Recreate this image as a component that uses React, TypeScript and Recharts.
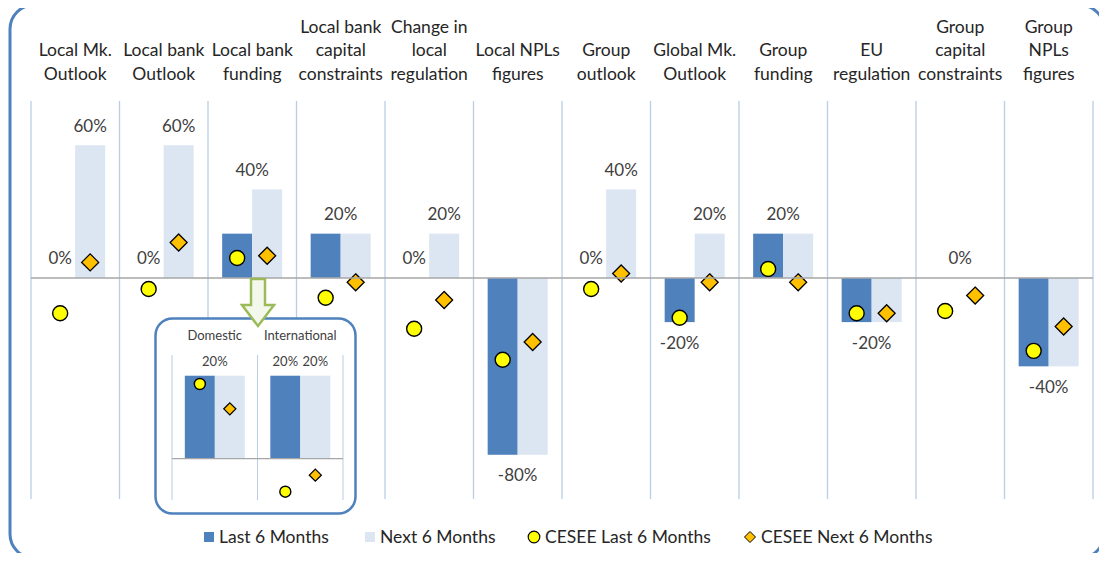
import React from 'react'
import { Bar, CartesianGrid, ComposedChart, ReferenceLine, XAxis, YAxis } from 'recharts'

// main chart
const categories = [
  'Local Mk.\nOutlook',
  'Local bank\nOutlook',
  'Local bank\nfunding',
  'Local bank\ncapital\nconstraints',
  'Change in\nlocal\nregulation',
  'Local NPLs\nfigures',
  'Group\noutlook',
  'Global Mk.\nOutlook',
  'Group\nfunding',
  'EU\nregulation',
  'Group\ncapital\nconstraints',
  'Group\nNPLs\nfigures',
]
const last6 = [0, 0, 20, 20, 0, -80, 0, -20, 20, -20, 0, -40]
const next6 = [60, 60, 40, 20, 20, -80, 40, 20, 20, -20, 0, -40]
const ceseeLast = [-16, -5, 9, -9, -23, -37, -5, -18, 4, -16, -15, -33]
const ceseeNext = [7, 16, 10, -2, -10, -29, 2, -2, -2, -16, -8, -22]
// 'group' = one label centred on the pair, 'split' = one label per bar
const labelModes = ['split', 'split', 'group', 'group', 'split', 'group', 'split', 'split', 'group', 'group', 'group', 'group']

// inset (local bank funding breakdown)
const insetCats = ['Domestic', 'International']
const insetLast = [20, 20]
const insetNext = [20, 20]
const insetCLast = [18, -8]
const insetCNext = [12, -4]
const insetModes = ['group', 'split']

const DARK = '#4f81bd'
const LIGHT = '#dce6f2'
const GRID = '#b9cde5'
const TXT = '#404040'
const FONT = 'Lato, "Noto Sans", sans-serif'

const mainData = categories.map((name, i) => ({
  name,
  last: last6[i],
  next: next6[i],
  cLast: ceseeLast[i],
  cNext: ceseeNext[i],
  mode: labelModes[i],
}))
const insetData = insetCats.map((name, i) => ({
  name,
  last: insetLast[i],
  next: insetNext[i],
  cLast: insetCLast[i],
  cNext: insetCNext[i],
  mode: insetModes[i],
}))

// value end of a bar, whichever way it points
const valueEnd = (y: number, h: number, v: number) => (v >= 0 ? Math.min(y, y + h) : Math.max(y, y + h))

const circleShape = (r: number) => (p: any) => (
  <circle
    cx={p.x + p.width / 2}
    cy={valueEnd(p.y, p.height, p.payload.cLast)}
    r={r}
    fill="#ffff00"
    stroke="#000"
    strokeWidth={1.4}
  />
)

const diamondShape = (s: number) => (p: any) => {
  const cx = p.x + p.width / 2
  const cy = valueEnd(p.y, p.height, p.payload.cNext)
  return (
    <path d={`M${cx},${cy - s}L${cx + s},${cy}L${cx},${cy + s}L${cx - s},${cy}Z`} fill="#ffc000" stroke="#000" strokeWidth={1.3} />
  )
}

// bar rectangle plus its data label
const barShape = (series: 'last' | 'next', fontSize: number, gap: number) => (p: any) => {
  const { x, y, width: w, height: h, payload, fill } = p
  const value = payload[series]
  const other = payload[series === 'last' ? 'next' : 'last']
  const top = Math.min(y, y + h)
  const bottom = Math.max(y, y + h)
  let cx = x + w / 2
  let show = true
  if (payload.mode === 'group') {
    const mine = Math.abs(value)
    const theirs = Math.abs(other)
    show = series === 'last' ? mine >= theirs : mine > theirs
    cx = series === 'last' ? x + w : x
  }
  const cy = value >= 0 ? top - gap : bottom + gap
  return (
    <g>
      {value !== 0 && <rect x={x} y={top} width={w} height={bottom - top} fill={fill} />}
      {show && (
        <text x={cx} y={cy} textAnchor="middle" dominantBaseline="central" fontSize={fontSize} fill={TXT} fontFamily={FONT}>
          {value}%
        </text>
      )}
    </g>
  )
}

const CategoryTick = (props: any) => {
  const { x, y, payload } = props
  const lines = String(payload.value).split('\n')
  return (
    <g>
      {lines.map((l, i) => (
        <text
          key={i}
          x={x}
          y={y - 26 - (lines.length - 1 - i) * 23.5}
          textAnchor="middle"
          dominantBaseline="central"
          fontSize={17.5}
          fill="#262626"
          fontFamily={FONT}
        >
          {l}
        </text>
      ))}
    </g>
  )
}

const InsetTick = (props: any) => {
  const { x, y, payload } = props
  return (
    <text x={x} y={y - 18} textAnchor="middle" dominantBaseline="central" fontSize={13} fill={TXT} fontFamily={FONT}>
      {payload.value}
    </text>
  )
}

const boundaries = (n: number) => (p: any) =>
  Array.from({ length: n + 1 }, (_, i) => p.offset.left + (i * p.offset.width) / n)

function Inset() {
  return (
    <div style={{ position: 'absolute', left: 154, top: 317 }}>
      <svg width={204} height={199} style={{ position: 'absolute', left: 0, top: 0 }}>
        <rect x={1.5} y={1.5} width={200} height={195} rx={17} fill="#fff" stroke={DARK} strokeWidth={2.5} />
      </svg>
      <ComposedChart
        width={204}
        height={199}
        data={insetData}
        margin={{ top: 4, right: 15, bottom: 16, left: 18 }}
        barCategoryGap="15%"
        barGap={0}
        style={{ position: 'absolute', left: 0, top: 0 }}
      >
        <CartesianGrid horizontal={false} stroke={GRID} verticalCoordinatesGenerator={boundaries(insetCats.length)} />
        <XAxis dataKey="name" orientation="top" height={34} axisLine={false} tickLine={false} tickSize={0} tick={<InsetTick />} interval={0} />
        <XAxis dataKey="name" xAxisId="m" hide />
        <YAxis hide domain={[-10, 25]} />
        <ReferenceLine y={0} stroke="#a6a6a6" strokeWidth={1.3} />
        <Bar dataKey="last" fill={DARK} minPointSize={0.01} shape={barShape('last', 13, 15)} isAnimationActive={false} />
        <Bar dataKey="next" fill={LIGHT} minPointSize={0.01} shape={barShape('next', 13, 15)} isAnimationActive={false} />
        <Bar xAxisId="m" dataKey="cLast" fill="none" shape={circleShape(5.5)} isAnimationActive={false} />
        <Bar xAxisId="m" dataKey="cNext" fill="none" shape={diamondShape(6)} isAnimationActive={false} />
      </ComposedChart>
    </div>
  )
}

const legendItems = [
  { label: 'Last 6 Months', left: 203, kind: 'dark' },
  { label: 'Next 6 Months', left: 364, kind: 'light' },
  { label: 'CESEE Last 6 Months', left: 527, kind: 'circle' },
  { label: 'CESEE Next 6 Months', left: 743, kind: 'diamond' },
]

const LegendIcon = ({ kind }: { kind: string }) => {
  if (kind === 'dark' || kind === 'light')
    return (
      <svg width={12} height={12}>
        <rect x={1} y={1} width={10} height={10} fill={kind === 'dark' ? DARK : LIGHT} />
      </svg>
    )
  if (kind === 'circle')
    return (
      <svg width={14} height={14}>
        <circle cx={7} cy={7} r={5.8} fill="#ffff00" stroke="#000" strokeWidth={1.2} />
      </svg>
    )
  return (
    <svg width={14} height={14}>
      <path d="M7,1.5L12.5,7L7,12.5L1.5,7Z" fill="#ffc000" stroke="#000" strokeWidth={1} />
    </svg>
  )
}

export default function App() {
  return (
    <div
      style={{
        position: 'relative',
        width: 1107,
        height: 561,
        margin: -8,
        background: '#fff',
        overflow: 'hidden',
        fontFamily: FONT,
      }}
    >
      <svg width={1107} height={561} style={{ position: 'absolute', left: 0, top: 0 }}>
        <rect x={10} y={5} width={1094} height={553} rx={24} fill="#fff" stroke={DARK} strokeWidth={3} />
      </svg>
      <ComposedChart
        width={1107}
        height={561}
        data={mainData}
        margin={{ top: 10, right: 14, bottom: 62, left: 31 }}
        barCategoryGap="16%"
        barGap={0}
        style={{ position: 'absolute', left: 0, top: 0 }}
      >
        <CartesianGrid horizontal={false} stroke={GRID} strokeWidth={1.3} verticalCoordinatesGenerator={boundaries(categories.length)} />
        <XAxis dataKey="name" orientation="top" height={91} axisLine={false} tickLine={false} tickSize={0} tick={<CategoryTick />} interval={0} />
        <XAxis dataKey="name" xAxisId="m" hide />
        <YAxis hide domain={[-100, 80]} />
        <ReferenceLine y={0} stroke="#a6a6a6" strokeWidth={1.5} />
        <Bar dataKey="last" name="Last 6 Months" fill={DARK} minPointSize={0.01} shape={barShape('last', 17, 20)} isAnimationActive={false} />
        <Bar dataKey="next" name="Next 6 Months" fill={LIGHT} minPointSize={0.01} shape={barShape('next', 17, 20)} isAnimationActive={false} />
        <Bar xAxisId="m" dataKey="cLast" name="CESEE Last 6 Months" fill="none" shape={circleShape(7.5)} isAnimationActive={false} />
        <Bar xAxisId="m" dataKey="cNext" name="CESEE Next 6 Months" fill="none" shape={diamondShape(8.5)} isAnimationActive={false} />
      </ComposedChart>
      <Inset />
      <svg width={1107} height={561} style={{ position: 'absolute', left: 0, top: 0, pointerEvents: 'none' }}>
        <path d="M251,279L265,279L265,305L274,305L258,326L242,305L251,305Z" fill="#f4f8ec" stroke="#9bbb59" strokeWidth={2.5} strokeLinejoin="miter" />
      </svg>
      {legendItems.map((it) => (
        <div
          key={it.label}
          style={{
            position: 'absolute',
            left: it.left,
            top: 526,
            display: 'flex',
            alignItems: 'center',
            gap: 4,
            fontSize: 17.5,
            color: '#262626',
            whiteSpace: 'nowrap',
          }}
        >
          <LegendIcon kind={it.kind} />
          <span>{it.label}</span>
        </div>
      ))}
    </div>
  )
}
